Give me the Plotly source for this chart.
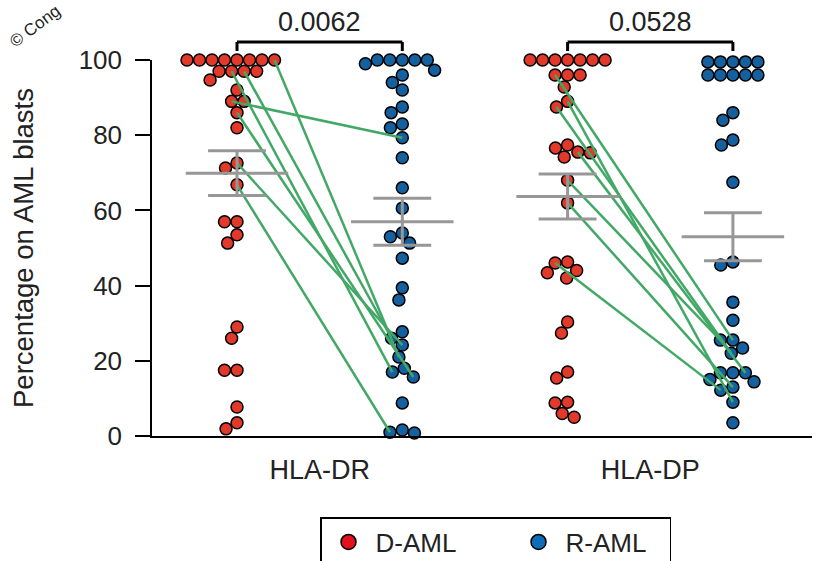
import numpy as np
import plotly.graph_objects as go

# ---------------- data ----------------
groups = ["HLA-DR", "HLA-DP"]
series = ["D-AML", "R-AML"]
p_values = ["0.0062", "0.0528"]

dr_d = [100, 100, 100, 100, 100, 100, 100, 100, 97, 97, 97, 97, 94.7, 92, 89, 89,
        86, 82, 72.6, 71.3, 66.8, 57, 57, 53.5, 51.3, 29, 26, 17.5, 17.5, 7.7, 3.5, 1.9]
dr_r = [100, 100, 100, 100, 100, 99, 97.3, 96, 94, 92, 87.5, 86, 83, 82, 79.3, 74,
        66, 60.6, 54, 53, 51.3, 47.3, 39.4, 36.2, 27.7, 26, 24.2, 21, 18, 17, 15.7,
        8.8, 1.6, 0.8, 1.0]
dp_d = [100, 100, 100, 100, 100, 100, 100, 96, 96, 96, 92.8, 89, 87.5, 77.4, 76.6,
        75.5, 75.3, 74.2, 68, 62, 46.3, 46, 44, 43.4, 42, 30.3, 27.4, 17, 15.4, 9,
        8.8, 6, 5]
dp_r = [99.5, 99.5, 99.5, 99.5, 99.5, 96, 96, 96, 96, 96, 86, 84, 78.7, 77.4, 67.5,
        46.3, 45.5, 35.6, 30.8, 25.5, 25.5, 23.4, 22, 16.8, 16.8, 16.8, 15, 14.4, 13,
        12.2, 9, 3.5]

# mean and SEM (D-AML, R-AML) per marker
dr_mean = [69.9, 57.0]
dr_sem = [5.95, 6.25]
dp_mean = [63.7, 53.0]
dp_sem = [6.0, 6.4]

# paired samples: (index in D-AML list, index in R-AML list)
dr_pairs = [(6, 27), (8, 29), (9, 25), (14, 14), (16, 30), (18, 26), (20, 34)]
dp_pairs = [(8, 19), (11, 30), (12, 22), (15, 25), (18, 20), (19, 28), (21, 29)]

# ---------------- styling ----------------
RED = "#E2392A"
BLUE = "#15609E"
LEG_RED = "#E3101E"
LEG_BLUE = "#0F6CB6"
GREEN = "#42A866"
GRAY = "#979797"
TXT = "#222222"

W, H = 815, 561
ML, MR, MT, MB = 152, 3, 60, 125
PX_PER_X = 165.3
PX_PER_Y = (H - MT - MB) / 100.0
X0 = -(237 - ML) / PX_PER_X
X1 = X0 + (W - ML - MR) / PX_PER_X
DIAM = 12.5  # px spacing for swarm


def swarm(vals):
    """simple beeswarm: returns x offsets (data units)"""
    order = sorted(range(len(vals)), key=lambda i: -vals[i])
    placed = []
    offs = [0.0] * len(vals)
    for i in order:
        y = vals[i] * PX_PER_Y
        cands = [0.0]
        for (px, py) in placed:
            dy = abs(y - py)
            if dy < DIAM:
                dx = np.sqrt(DIAM ** 2 - dy ** 2)
                cands += [px - dx, px + dx]
        cands.sort(key=abs)
        c = 0.0
        for c in cands:
            if all((c - px) ** 2 + (y - py) ** 2 >= DIAM ** 2 - 1e-6 for px, py in placed):
                break
        placed.append((c, y))
        offs[i] = c / PX_PER_X
    return offs


fig = go.Figure()

sets = [(0, dr_d, RED), (1, dr_r, BLUE), (2, dp_d, RED), (3, dp_r, BLUE)]
xs = {}
for pos, vals, col in sets:
    off = swarm(vals)
    x = [pos + o for o in off]
    xs[pos] = x
    fig.add_trace(go.Scatter(
        x=x, y=vals, mode="markers", showlegend=False, cliponaxis=False,
        marker=dict(color=col, size=12, line=dict(color="black", width=1.5)),
        hoverinfo="y"))

# paired lines
for dvals, rvals, pairs, gi in [(dr_d, dr_r, dr_pairs, 0), (dp_d, dp_r, dp_pairs, 1)]:
    lx, ly = [], []
    for a, b in pairs:
        lx += [xs[2 * gi][a], xs[2 * gi + 1][b], None]
        ly += [dvals[a], rvals[b], None]
    fig.add_trace(go.Scatter(x=lx, y=ly, mode="lines", showlegend=False,
                             line=dict(color=GREEN, width=2.5), hoverinfo="skip"))

# mean +- SEM bars
for gi, (means, sems) in enumerate([(dr_mean, dr_sem), (dp_mean, dp_sem)]):
    for k in range(2):
        c = 2 * gi + k
        m, s = means[k], sems[k]
        bx = [c - 0.31, c + 0.31, None, c - 0.175, c + 0.175, None,
              c - 0.175, c + 0.175, None, c, c]
        by = [m, m, None, m + s, m + s, None, m - s, m - s, None, m - s, m + s]
        fig.add_trace(go.Scatter(x=bx, y=by, mode="lines", showlegend=False,
                                 line=dict(color=GRAY, width=3), hoverinfo="skip"))

# legend entries
fig.add_trace(go.Scatter(x=[None], y=[None], mode="markers", name=series[0],
                         legendwidth=131,
                         marker=dict(color=LEG_RED, size=15, line=dict(color="black", width=1.5))))
fig.add_trace(go.Scatter(x=[None], y=[None], mode="markers", name=series[1],
                         legendwidth=99,
                         marker=dict(color=LEG_BLUE, size=15, line=dict(color="black", width=1.5))))


def ypaper(pix):
    return (H - MB - pix) / (H - MT - MB)


def xpaper(pix):
    return (pix - ML) / (W - ML - MR)


shapes = []
annotations = []
for gi, pv in enumerate(p_values):
    a, b = 2 * gi, 2 * gi + 1
    yb = ypaper(42)
    yt = ypaper(51)
    for (x0, y0, x1, y1) in [(a, yb, b, yb), (a, yb, a, yt), (b, yb, b, yt)]:
        shapes.append(dict(type="line", xref="x", yref="paper", x0=x0, y0=y0, x1=x1, y1=y1,
                           line=dict(color="black", width=3)))
    annotations.append(dict(x=(a + b) / 2, y=ypaper(22), xref="x", yref="paper",
                            text=pv, showarrow=False, yanchor="middle",
                            font=dict(size=27, color=TXT)))

annotations.append(dict(x=xpaper(23), y=0.5, xref="paper", yref="paper",
                        text="Percentage on AML blasts", textangle=-90, showarrow=False,
                        xanchor="center", yanchor="middle",
                        font=dict(size=27.5, color=TXT)))
annotations.append(dict(x=xpaper(3), y=ypaper(54), xref="paper", yref="paper",
                        text="© Cong", textangle=-37, showarrow=False,
                        xanchor="left", yanchor="bottom",
                        font=dict(size=17, color=TXT)))

fig.update_layout(
    width=W, height=H,
    margin=dict(l=ML, r=MR, t=MT, b=MB, autoexpand=False),
    paper_bgcolor="white", plot_bgcolor="white",
    font=dict(family="Liberation Sans, Arial, sans-serif", color=TXT),
    shapes=shapes, annotations=annotations,
    xaxis=dict(range=[X0, X1], tickvals=[0.5, 2.5], ticktext=groups,
               showgrid=False, zeroline=False, showline=True, linecolor="black",
               linewidth=1.5, ticks="outside", ticklen=9,
               tickcolor="rgba(0,0,0,0)", tickfont=dict(size=27, color=TXT)),
    yaxis=dict(range=[0, 100], tickvals=[0, 20, 40, 60, 80, 100],
               showgrid=False, zeroline=False, showline=True, linecolor="black",
               linewidth=1.5, ticks="outside", ticklen=15, tickwidth=1.5,
               tickcolor="black", ticklabelstandoff=8,
               tickfont=dict(size=26, color=TXT)),
    legend=dict(orientation="h", x=xpaper(320), y=ypaper(517),
                xanchor="left", yanchor="top", bordercolor="black", borderwidth=1.5,
                itemwidth=44,
                font=dict(size=26, color=TXT)),
    showlegend=True,
)

fig.write_html("out.html")
